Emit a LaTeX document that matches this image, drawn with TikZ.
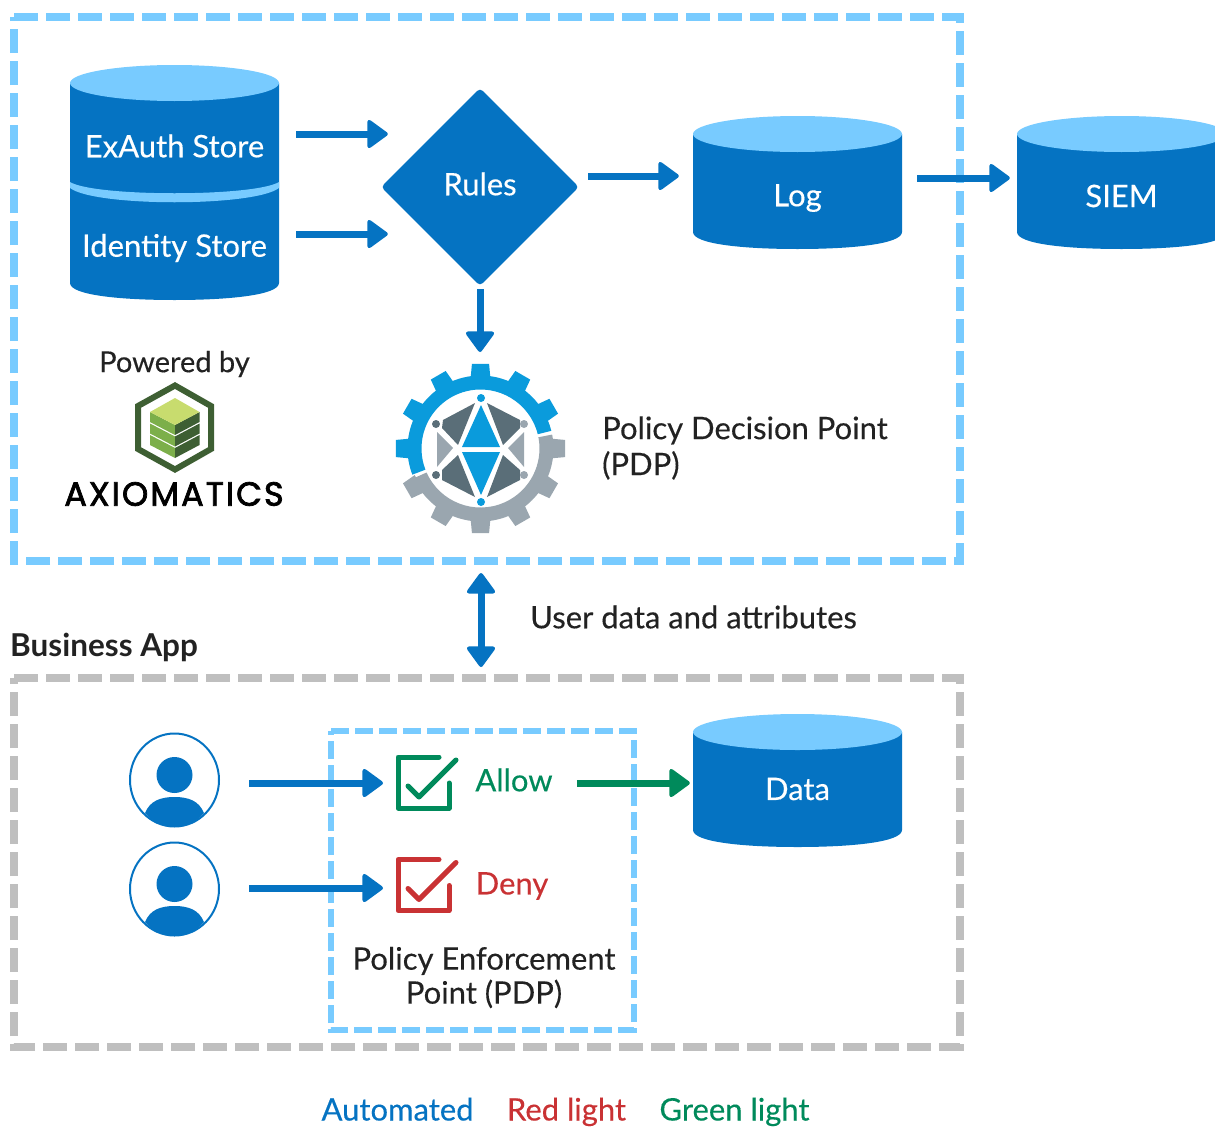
\documentclass[tikz,border=0pt]{standalone}
\usepackage{fontspec}
\setmainfont{Lato}[FakeBold=0.3,BoldFeatures={FakeBold=0}]
\newfontfamily\logofont{Poppins}[LetterSpace=6,FakeBold=2.2]
\usetikzlibrary{arrows.meta,shapes.geometric}
\definecolor{flowblue}{HTML}{0573C2}
\definecolor{skyblue}{HTML}{78CBFF}
\definecolor{zonegray}{HTML}{BFBFBF}
\definecolor{okgreen}{HTML}{008A5B}
\definecolor{nored}{HTML}{C93234}
\definecolor{gearblue}{HTML}{0A9BDC}
\definecolor{geargray}{HTML}{9AA6AF}
\definecolor{facetgray}{HTML}{5A6E78}
\definecolor{inktext}{HTML}{222222}
\definecolor{logodark}{HTML}{3E5F33}
\definecolor{logomid}{HTML}{7CAF4A}
\definecolor{logolight}{HTML}{C8DC6E}
\newcommand{\storedrum}[3]{% centre x, top y, bottom y
    \fill[flowblue] (#1-104.5,#2+18) -- (#1-104.5,#3-17) .. controls (#1-104.5,#3-5) and (#1-55,#3) .. (#1,#3) .. controls (#1+55,#3) and (#1+104.5,#3-5) .. (#1+104.5,#3-17) -- (#1+104.5,#2+18) -- cycle;
    \fill[skyblue] (#1,#2+18) ellipse [x radius=104.5pt, y radius=18pt];
}
\tikzset{
    label text/.style={font=\fontsize{31}{36}\selectfont, text=inktext, inner sep=0pt},
    store text/.style={label text, text=white, minimum width=209pt},
    flow/.style={line width=7pt, draw=flowblue, -{Triangle[round,length=22pt,width=31pt,line width=4pt]}},
    zone/.style={line width=7.5pt, dash pattern=on 24pt off 8pt},
    tick box/.style={line width=5pt, line cap=round, line join=round},
}
\begin{document}
\begin{tikzpicture}[x=1pt,y=-1pt]
    \useasboundingbox (0,0) rectangle (1215,1127);

    % zones
    \draw[zone, draw=skyblue] (14,17) -- (960,17) -- (960,561) -- (14,561) -- cycle;
    \draw[zone, draw=zonegray] (14,678) -- (960,678) -- (960,1047) -- (14,1047) -- cycle;
    \draw[zone, draw=skyblue, line width=5.5pt, dash pattern=on 18pt off 6pt] (331,731) -- (634,731) -- (634,1030) -- (331,1030) -- cycle;

    % stores
    \storedrum{174.5}{65}{300}
    \fill[skyblue] (70,182) .. controls (95,197) and (254,197) .. (279,182) -- (279,188) .. controls (254,207) and (95,207) .. (70,188) -- cycle;
    \node[store text] (exauth) at (174.5,146) {ExAuth Store};
    \node[store text] (identity) at (174.5,248) {Identity Store};
    \storedrum{797.5}{116}{249}
    \node[store text, minimum height=106pt] (log) at (797.5,198) {Log};
    \storedrum{1121.5}{116}{249}
    \node[store text, minimum height=106pt] (siem) at (1121.5,196) {SIEM};
    \storedrum{797.5}{714}{847}
    \node[store text, minimum height=116pt] (data) at (797.5,789) {Data};

    \node[diamond, fill=flowblue, rounded corners=4pt, minimum width=198pt, minimum height=198pt, inner sep=0pt] (rules) at (480,187) {};
    \node[label text, text=white] (rulestext) at (480,184) {Rules};

    % gear
    \coordinate (gearcenter) at (480.5,448.5);
    \begin{scope}[shift={(gearcenter)},x=1pt,y=1pt]
        \fill[gearblue] (14:59pt) arc (14:201:59pt) -- (201:73pt) arc (201:14:73pt) -- cycle;
        \fill[geargray] (204:59pt) arc (204:371:59pt) -- (371:73pt) arc (371:204:73pt) -- cycle;
        \foreach \a in {30,60,...,180}
            \fill[gearblue] ({\a-8}:71pt) -- ({\a-5.8}:85pt) -- ({\a+5.8}:85pt) -- ({\a+8}:71pt) -- cycle;
        \foreach \a in {210,240,...,360}
            \fill[geargray] ({\a-8}:71pt) -- ({\a-5.8}:85pt) -- ({\a+5.8}:85pt) -- ({\a+8}:71pt) -- cycle;
    \end{scope}
    \fill[gearblue] (481,405) -- (462,447) -- (500,447) -- cycle;
    \fill[gearblue] (481,495) -- (462,452) -- (500,452) -- cycle;
    \fill[gearblue] (481,398) circle (4pt) (481,502) circle (4pt);
    \fill[facetgray] (475,403) -- (443,420) -- (442,428) -- (458,445) -- cycle;
    \fill[facetgray] (487,403) -- (520,420) -- (520,428) -- (503,445) -- cycle;
    \fill[facetgray] (458,455) -- (442,470) -- (442,480) -- (475,497) -- cycle;
    \fill[facetgray] (503,455) -- (520,470) -- (520,480) -- (487,497) -- cycle;
    \fill[geargray] (437,432) -- (453,448) -- (437,467) -- cycle;
    \fill[geargray] (524,432) -- (508,448) -- (524,467) -- cycle;
    \fill[facetgray] (436,424) circle (4pt) (436,475) circle (4pt);
    \fill[geargray] (524,424) circle (4pt) (524,475) circle (4pt);
    \node[label text, anchor=west, align=left] (pdp) at (602,448) {Policy Decision Point\\(PDP)};

    % logo
    \node[label text, font=\fontsize{29}{32}\selectfont] (powered) at (174.5,364) {Powered by};
    \draw[logodark, line width=6pt, line join=miter] (175,385.5) -- (211,406) -- (211,449) -- (175,469.5) -- (138,449) -- (138,406) -- cycle;
    \foreach \dy in {0,11.5,23} {
        \fill[logomid] (150,412+\dy) -- (175,425+\dy) -- (175,435+\dy) -- (150,422+\dy) -- cycle;
        \fill[logodark] (199.5,412+\dy) -- (175,425+\dy) -- (175,435+\dy) -- (199.5,422+\dy) -- cycle;
    }
    \fill[logolight] (175,398) -- (199.5,412) -- (175,425) -- (150,412) -- cycle;
    \node[inner sep=0pt, font=\logofont\fontsize{33.5}{36}\selectfont, text=black] (axiomatics) at (174,494) {AXIOMATICS};

    % business app
    \node[label text, anchor=west, font=\bfseries\fontsize{31.5}{36}\selectfont] (business) at (10,647) {Business App};
    \node[label text, anchor=west] (attributes) at (530,617) {User data and attributes};
    \coordinate (zonetop) at (481,573);
    \coordinate (zonebottom) at (481,667);

    % users
    \foreach \name/\py in {usera/780,userb/889} {
        \node[ellipse, draw=flowblue, line width=2pt, minimum width=89pt, minimum height=93pt, inner sep=0pt] (\name) at (174.5,\py) {};
        \fill[flowblue] (174.5,\py-5) circle (18pt);
        \fill[flowblue] (145,\py+33) .. controls (150,\py+21) and (160,\py+17) .. (174.5,\py+17) .. controls (189,\py+17) and (199,\py+21) .. (204,\py+33) .. controls (196,\py+42) and (186,\py+47) .. (174.5,\py+47) .. controls (163,\py+47) and (153,\py+42) .. (145,\py+33) -- cycle;
    }

    % checks
    \coordinate (allowbox) at (423.5,783);
    \coordinate (denybox) at (423.5,885.5);
    \foreach \spot/\col in {allowbox/okgreen,denybox/nored} {
        \begin{scope}[shift={(\spot)}]
            \draw[tick box, draw=\col] (15.5,-26) -- (-25.5,-26) -- (-25.5,25) -- (25.5,25) -- (25.5,0);
            \draw[tick box, draw=\col] (-15.5,3) -- (-4.5,14) -- (32.5,-23);
        \end{scope}
    }
    \node[label text, text=okgreen] (allowtext) at (514,780) {Allow};
    \node[label text, text=nored] (denytext) at (512,886) {Deny};
    \node[label text, align=center, font=\fontsize{31}{34}\selectfont] (pep) at (484,977.5) {Policy Enforcement\\Point (PDP)};

    % legend
    \node[label text, text=flowblue, anchor=base] (automated) at (397.5,1120.5) {Automated};
    \node[label text, text=nored, anchor=base] (redlight) at (566.5,1120.5) {Red light};
    \node[label text, text=okgreen, anchor=base] (greenlight) at (734.5,1120.5) {Green light};

    % arrows
    \draw[flow] ([xshift=17pt,yshift=12pt]exauth.east) -- ([yshift=53pt,xshift=7pt]rules.west);
    \draw[flow] ([xshift=17pt,yshift=14pt]identity.east) -- ([yshift=-47pt,xshift=7pt]rules.west);
    \draw[flow] ([yshift=11pt,xshift=9pt]rules.east) -- ([xshift=-14pt,yshift=22pt]log.west);
    \draw[flow] ([xshift=15pt,yshift=20pt]log.east) -- ([xshift=-7pt,yshift=18pt]siem.west);
    \draw[flow] ([yshift=-3pt]rules.south) -- ([yshift=96.5pt]rules.south |- gearcenter);
    \draw[flow, {Triangle[round,length=22pt,width=31pt,line width=4pt]}-{Triangle[round,length=22pt,width=31pt,line width=4pt]}] (zonetop) -- (zonebottom);
    \draw[flow] ([xshift=29pt,yshift=-3pt]usera.east) -- ([xshift=-40.5pt]allowbox);
    \draw[flow] ([xshift=29pt,yshift=1pt]userb.east) -- ([xshift=-40.5pt,yshift=-2.5pt]denybox);
    \draw[flow, draw=okgreen, -{Triangle[round,length=22pt,width=31pt,line width=4pt]}] ([xshift=24pt,yshift=-3pt]allowtext.east) -- ([xshift=-3pt,yshift=6pt]data.west);
\end{tikzpicture}
\end{document}
